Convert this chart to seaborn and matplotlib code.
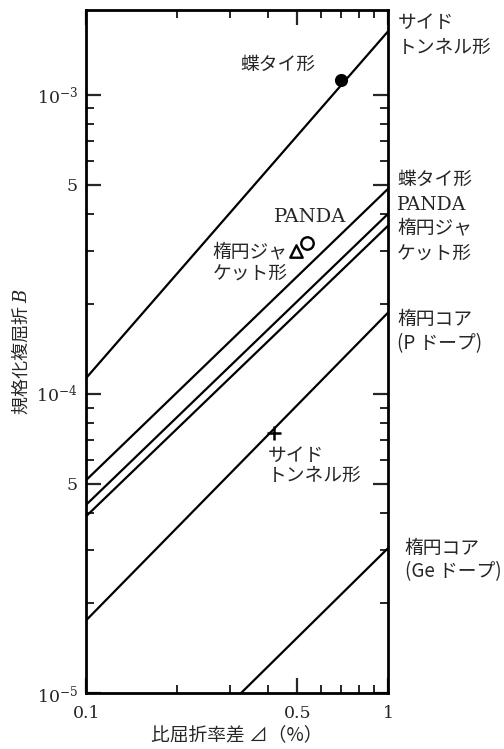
import numpy as np
import pandas as pd
import matplotlib
matplotlib.use("Agg")
import matplotlib.pyplot as plt
import seaborn as sns
from matplotlib.ticker import FixedLocator, NullFormatter

# Theoretical lines: normalized birefringence B vs relative index difference (%)
line_names = ["サイドトンネル形", "蝶タイ形", "PANDA", "楕円ジャケット形",
              "楕円コア(Pドープ)", "楕円コア(Geドープ)"]
delta_start = [0.1, 0.1, 0.1, 0.1, 0.1, 0.326]
delta_end = [1.0, 1.0, 1.0, 1.0, 1.0, 1.0]
b_start = [1.13e-4, 5.15e-5, 4.26e-5, 3.9e-5, 1.75e-5, 1.0e-5]
b_end = [1.63e-3, 4.85e-4, 4.0e-4, 3.65e-4, 1.87e-4, 3.05e-5]

# Measured fibres
point_names = ["蝶タイ形", "PANDA", "楕円ジャケット形", "サイドトンネル形"]
point_delta = [0.70, 0.539, 0.495, 0.418]
point_b = [1.12e-3, 3.2e-4, 3.0e-4, 7.4e-5]
point_marker = ["o", "o", "^", "+"]
point_fill = ["black", "white", "white", "black"]

sns.set_style("ticks")
plt.rcParams["font.family"] = ["Noto Sans CJK JP", "DejaVu Sans"]
plt.rcParams["mathtext.fontset"] = "dejavuserif"

fig = plt.figure(figsize=(5.04, 7.49), dpi=100)
ax = fig.add_axes([0.171, 0.0748, 0.599, 0.9118])

rows = []
for n, x0, x1, y0, y1 in zip(line_names, delta_start, delta_end, b_start, b_end):
    rows.append({"name": n, "delta": x0, "B": y0})
    rows.append({"name": n, "delta": x1, "B": y1})
lines_df = pd.DataFrame(rows)

sns.lineplot(data=lines_df, x="delta", y="B", units="name", estimator=None,
             color="black", linewidth=1.6, ax=ax, legend=False, sort=False)

pts = pd.DataFrame({"name": point_names, "delta": point_delta, "B": point_b})
for i, row in pts.iterrows():
    m = point_marker[i]
    if m == "+":
        sns.scatterplot(x=[row["delta"]], y=[row["B"]], marker="+", s=90,
                        color="black", linewidth=1.8, ax=ax, legend=False, zorder=5)
    else:
        sns.scatterplot(x=[row["delta"]], y=[row["B"]], marker=m,
                        s=60 if point_fill[i] == "black" else 80,
                        facecolor=point_fill[i], edgecolor="black", linewidth=1.7,
                        ax=ax, legend=False, zorder=5)

ax.set_xscale("log")
ax.set_yscale("log")
ax.set_xlim(0.1, 1.0)
ax.set_ylim(1e-5, 1.92e-3)

# Ticks
ax.xaxis.set_major_locator(FixedLocator([0.1, 0.5, 1.0]))
ax.xaxis.set_minor_locator(FixedLocator([0.2, 0.3, 0.4, 0.6, 0.7, 0.8, 0.9]))
ax.set_xticklabels(["0.1", "0.5", "1"])
ax.xaxis.set_minor_formatter(NullFormatter())
ax.yaxis.set_major_locator(FixedLocator([1e-5, 5e-5, 1e-4, 5e-4, 1e-3]))
ax.yaxis.set_minor_locator(FixedLocator(
    [k * 1e-5 for k in (2, 3, 4, 6, 7, 8, 9)] +
    [k * 1e-4 for k in (2, 3, 4, 6, 7, 8, 9)]))
ax.set_yticklabels([r"$10^{-5}$", "5", r"$10^{-4}$", "5", r"$10^{-3}$"])
ax.yaxis.set_minor_formatter(NullFormatter())
ax.tick_params(which="major", direction="in", length=11, width=1.6,
               top=True, right=True, labelsize=12.5, pad=6)
ax.tick_params(axis="x", which="major", pad=9)
ax.tick_params(which="minor", direction="in", length=5.5, width=1.4,
               top=True, right=True)
for lab in ax.get_xticklabels() + ax.get_yticklabels():
    lab.set_family(["DejaVu Serif"])
for s in ax.spines.values():
    s.set_linewidth(2.0)
    s.set_color("black")

ax.set_xlabel("比屈折率差 ⊿（%）", fontsize=13.5, labelpad=1)
ax.set_ylabel("規格化複屈折 $B$", fontsize=13, labelpad=4)

fs = 13.5
serif = ["DejaVu Serif"]

# Labels for the theoretical lines, outside the right spine
ty = ax.get_yaxis_transform()
right_labels = [
    (1.033, 1.75e-3, "サイド", None),
    (1.033, 1.44e-3, "トンネル形", None),
    (1.03, 5.2e-4, "蝶タイ形", None),
    (1.03, 4.28e-4, "PANDA", serif),
    (1.03, 3.59e-4, "楕円ジャ", None),
    (1.03, 2.96e-4, "ケット形", None),
    (1.03, 1.77e-4, "楕円コア", None),
    (1.03, 1.47e-4, "(P ドープ)", None),
    (1.055, 3.05e-5, "楕円コア", None),
    (1.055, 2.54e-5, "(Ge ドープ)", None),
]
for x, y, s, fam in right_labels:
    kw = {"family": fam} if fam else {}
    ax.text(x, y, s, transform=ty, fontsize=fs, va="center", ha="left", **kw)

# Labels for the measured points
ax.text(0.43, 1.26e-3, "蝶タイ形", fontsize=fs, ha="center", va="center")
ax.text(0.55, 3.9e-4, "PANDA", fontsize=14, ha="center", va="center",
        family=serif)
ax.text(0.262, 2.98e-4, "楕円ジャ", fontsize=fs, ha="left", va="center")
ax.text(0.262, 2.54e-4, "ケット形", fontsize=fs, ha="left", va="center")
ax.text(0.40, 6.25e-5, "サイド", fontsize=fs, ha="left", va="center")
ax.text(0.40, 5.36e-5, "トンネル形", fontsize=fs, ha="left", va="center")

fig.savefig("out.png", dpi=100)
